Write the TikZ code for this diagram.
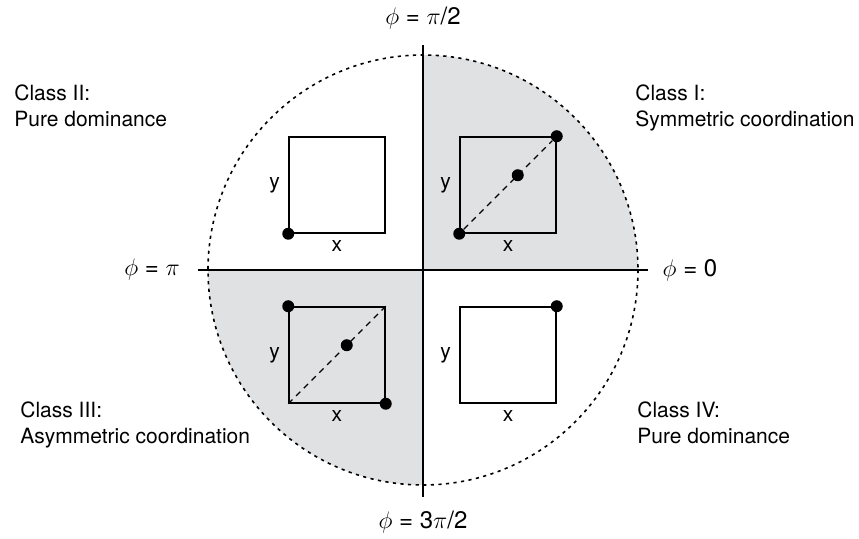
\documentclass[tikz,border=0pt]{standalone}
\usepackage{fontspec}
\setmainfont{TeX Gyre Heros}
\usetikzlibrary{positioning,calc}
\definecolor{quadgray}{HTML}{E0E1E3}
\tikzset{
  axisline/.style={black, line width=1pt},
  boxline/.style={draw=black, line width=0.75pt, minimum size=48pt, inner sep=0pt},
  diag/.style={black, dashed, line width=0.6pt, dash pattern=on 3pt off 2.5pt},
  dot/.style={circle, fill=black, inner sep=0pt, minimum size=6pt},
  classlabel/.style={align=left, anchor=north west, inner sep=0pt, font=\fontsize{10.5}{13}\selectfont},
  phaselabel/.style={font=\fontsize{12}{14}\selectfont, inner sep=1pt},
  axislabel/.style={font=\fontsize{10.5}{13}\selectfont, inner sep=1pt}
}
\begin{document}
\begin{tikzpicture}[x=0.5pt,y=-0.5pt]
  \useasboundingbox (0,0) rectangle (859,539);
  \coordinate (O) at (423,270);
  % shaded quadrants
  \fill[quadgray] (O) -- (638,270) arc[start angle=0, end angle=-90, radius=215] -- cycle;
  \fill[quadgray] (O) -- (208,270) arc[start angle=180, end angle=90, radius=215] -- cycle;
  \draw[line width=0.8pt, dash pattern=on 1.6pt off 2.2pt] (O) circle[radius=215];
  % axes
  \coordinate (W) at (198,270);
  \coordinate (E) at (648,270);
  \coordinate (N) at (423,45);
  \coordinate (S) at (423,497);
  \draw[axisline] (W) -- (E);
  \draw[axisline] (N) -- (S);
  \node[phaselabel] (top) at (423,18) {$\phi$ = $\pi$/2};
  \node[phaselabel] (left) at (152,270) {$\phi$ = $\pi$};
  \node[phaselabel] (right) at (690,270) {$\phi$ = 0};
  \node[phaselabel] (bottom) at (423,522) {$\phi$ = 3$\pi$/2};
  % class I
  \node[boxline] (sq1) at (508,185) {};
  \node[dot] (lo1) at (sq1.south west) {};
  \node[dot] (hi1) at (sq1.north east) {};
  \node[dot] (mid1) at ($(sq1.south west)!0.6!(sq1.north east)$) {};
  \draw[diag] (lo1) -- (hi1);
  \node[axislabel, left=3pt of sq1] (y1) {y};
  \node[axislabel, below=2pt of sq1] (x1) {x};
  \node[classlabel] (c1) at (635,84) {Class I:\\Symmetric coordination};
  % class II
  \node[boxline] (sq2) at (337,185) {};
  \node[dot] (lo2) at (sq2.south west) {};
  \node[axislabel, left=3pt of sq2] (y2) {y};
  \node[axislabel, below=2pt of sq2] (x2) {x};
  \node[classlabel] (c2) at (14,84) {Class II:\\Pure dominance};
  % class III
  \node[boxline] (sq3) at (337,355) {};
  \node[dot] (tl3) at (sq3.north west) {};
  \node[dot] (br3) at (sq3.south east) {};
  \node[dot] (mid3) at ($(sq3.south west)!0.6!(sq3.north east)$) {};
  \draw[diag] (sq3.south west) -- (sq3.north east);
  \node[axislabel, left=3pt of sq3] (y3) {y};
  \node[axislabel, below=2pt of sq3] (x3) {x};
  \node[classlabel] (c3) at (20,401) {Class III:\\Asymmetric coordination};
  % class IV
  \node[boxline] (sq4) at (508,355) {};
  \node[dot] (hi4) at (sq4.north east) {};
  \node[axislabel, left=3pt of sq4] (y4) {y};
  \node[axislabel, below=2pt of sq4] (x4) {x};
  \node[classlabel] (c4) at (637,401) {Class IV:\\Pure dominance};
\end{tikzpicture}
\end{document}
